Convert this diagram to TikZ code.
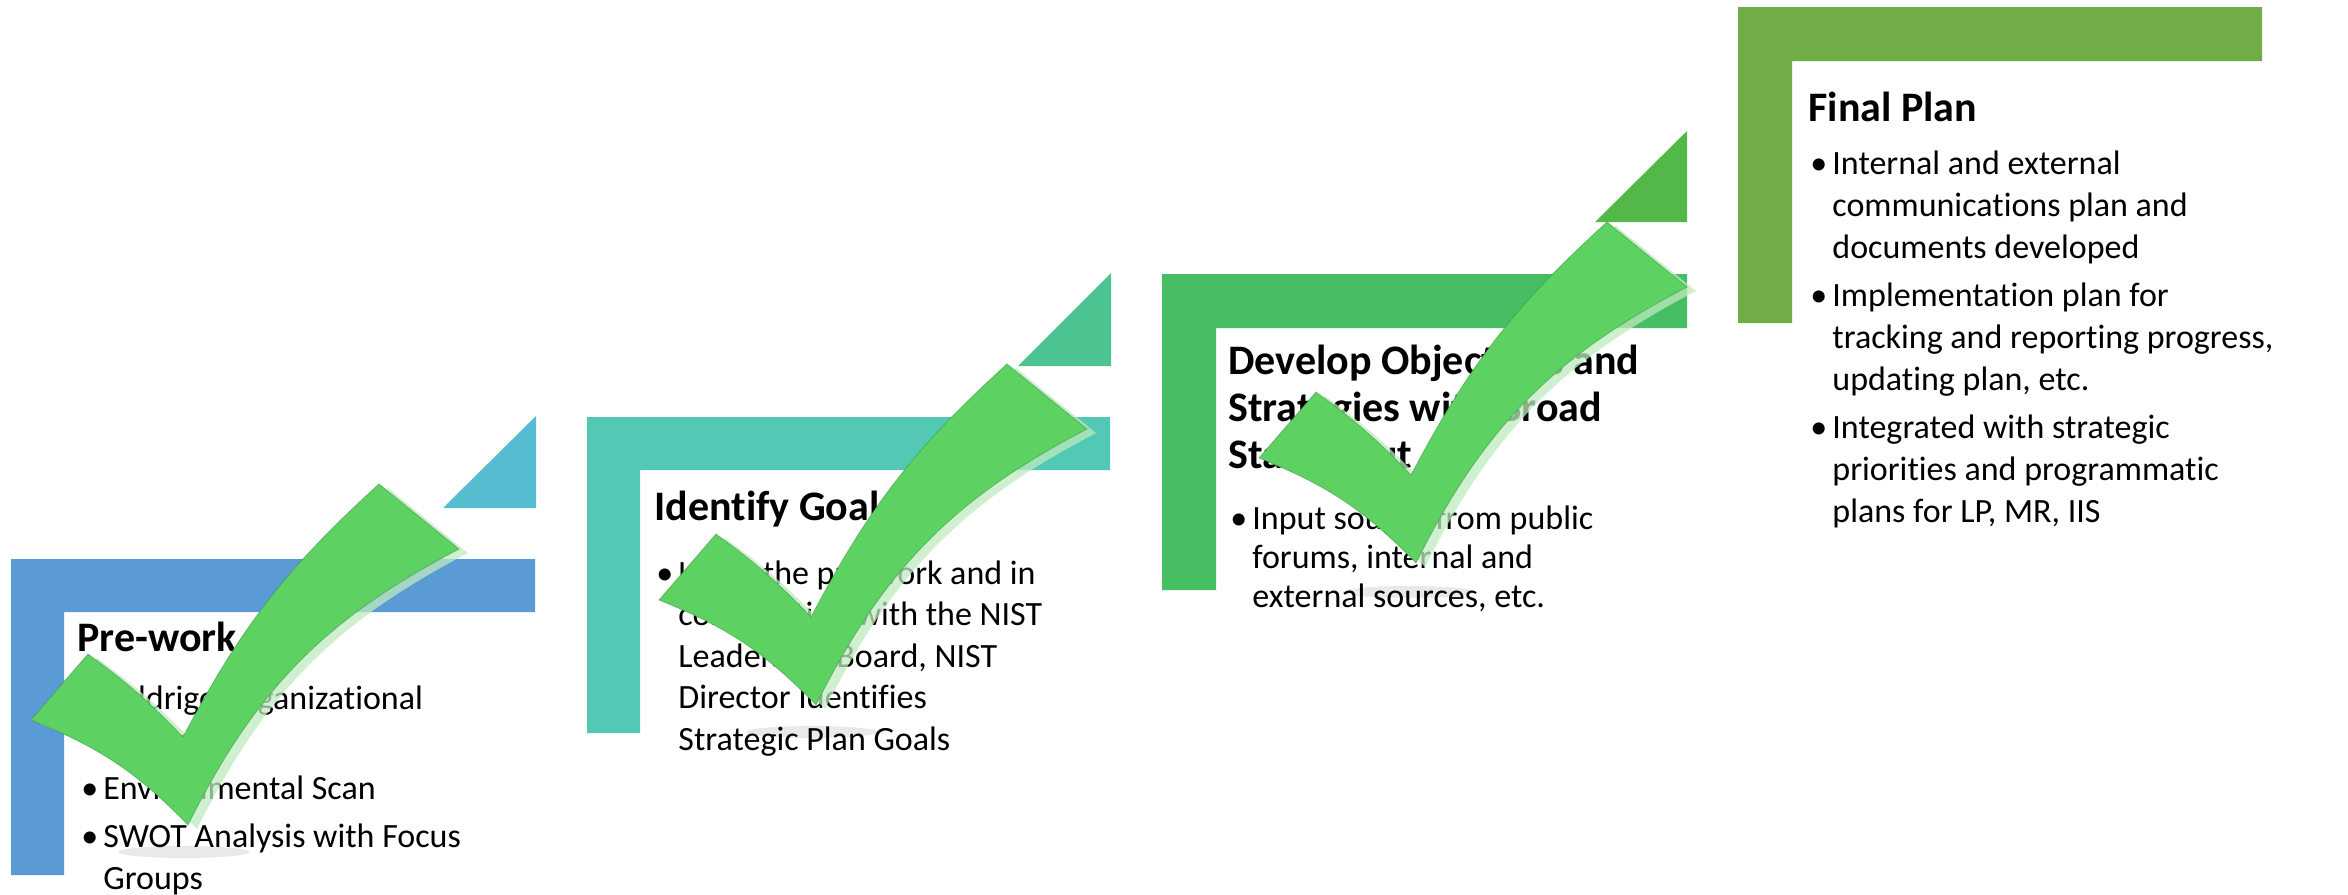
\documentclass[tikz,border=0pt]{standalone}
\usepackage{fontspec}
\setmainfont{Carlito}[Ligatures=NoCommon]
\definecolor{cBlue}{HTML}{5B9BD5}
\definecolor{cCyanTri}{HTML}{56BCCF}
\definecolor{cTeal}{HTML}{53C8B4}
\definecolor{cTealTri}{HTML}{4CC48F}
\definecolor{cGreen}{HTML}{47BE64}
\definecolor{cGreenTri}{HTML}{52B848}
\definecolor{cOlive}{HTML}{70AD47}
\definecolor{ckGreen}{HTML}{5DD161}
\definecolor{ckHalo}{HTML}{BDEBBD}
\definecolor{ckEdge}{HTML}{3E8E44}
\newcommand\bul[1]{\par\noindent\hangindent=11pt\hangafter=1\makebox[11pt][l]{\textbullet}#1}
\newcommand\checkpath{(31,720) -- (88,654) to[bend left=5] (183,737) to[bend left=10] (379,484) -- (459,549) to[bend right=18] (188,825) to[bend right=12] (31,720) -- cycle}
\begin{document}
\begin{tikzpicture}[x=0.5pt,y=-0.5pt,
  ttl/.style={anchor=base west, inner sep=0, font=\bfseries\fontsize{21}{23.3}\selectfont},
  body/.style={anchor=base west, inner sep=0},
  chk/.style={fill=ckGreen, draw=ckEdge, draw opacity=0.5, line width=0.4pt},
  halo/.style={fill=ckHalo, opacity=0.75},
  gshadow/.style={fill=black!12, opacity=0.7}]
\useasboundingbox (0,0) rectangle (2348,894);
% ---- L shapes and triangles
\fill[cBlue] (11,559) -- (535,559) -- (535,612) -- (64,612) -- (64,875) -- (11,875) -- cycle;
\fill[cCyanTri] (443,508) -- (536,416) -- (536,508) -- cycle;
\fill[cTeal] (587,417) -- (1110,417) -- (1110,470) -- (640,470) -- (640,733) -- (587,733) -- cycle;
\fill[cTealTri] (1018,366) -- (1111,273) -- (1111,366) -- cycle;
\fill[cGreen] (1162,274) -- (1687,274) -- (1687,328) -- (1216,328) -- (1216,590) -- (1162,590) -- cycle;
\fill[cGreenTri] (1595,222) -- (1687,131) -- (1687,222) -- cycle;
\fill[cOlive] (1738,7) -- (2262,7) -- (2262,61) -- (1792,61) -- (1792,323) -- (1738,323) -- cycle;
% ---- ground shadows of the checks
\fill[gshadow] (184,852) ellipse [x radius=66, y radius=6];
\fill[gshadow] (812,732) ellipse [x radius=66, y radius=6];
\fill[gshadow] (1409,592) ellipse [x radius=66, y radius=6];
% ---- texts
\node[ttl] (t1) at (77,651) {Pre-work};
\node[body] (b1) at (81,709) {\begin{minipage}[t]{300pt}\fontsize{17}{21}\selectfont\setlength\parskip{3pt}%
\bul{Baldrige Organizational\\Profile}\bul{Environmental Scan}\bul{SWOT Analysis with Focus\\Groups}\end{minipage}};
\node[ttl] (t2) at (654,520) {Identify Goals};
\node[body] (b2) at (656,584) {\begin{minipage}[t]{300pt}\fontsize{17}{20.8}\selectfont\setlength\parskip{3pt}%
\bul{Using the pre-work and in\\consultation with the NIST\\Leadership Board, NIST\\Director Identifies\\Strategic Plan Goals}\end{minipage}};
\node[ttl, align=left] (t3) at (1228,468) {Develop Objectives and\\Strategies with Broad\\Staff Input};
\node[body] (b3) at (1230,529) {\begin{minipage}[t]{300pt}\fontsize{17}{19.7}\selectfont\setlength\parskip{3pt}%
\bul{Input sought from public\\forums, internal and\\external sources, etc.}\end{minipage}};
\node[ttl] (t4) at (1808,121) {Final Plan};
\node[body] (b4) at (1810,174) {\begin{minipage}[t]{300pt}\fontsize{17}{21}\selectfont\setlength\parskip{3pt}%
\bul{Internal and external\\communications plan and\\documents developed}\bul{Implementation plan for\\tracking and reporting progress,\\updating plan, etc.}\bul{Integrated with strategic\\priorities and programmatic\\plans for LP, MR, IIS}\end{minipage}};
% ---- check marks
\foreach \dx/\dy in {0/0,628/-120,1228/-262}{
  \begin{scope}[shift={(\dx,\dy)}]
    \fill[halo, shift={(9,4)}] \checkpath;
    \filldraw[chk] \checkpath;
  \end{scope}
}
\end{tikzpicture}
\end{document}
